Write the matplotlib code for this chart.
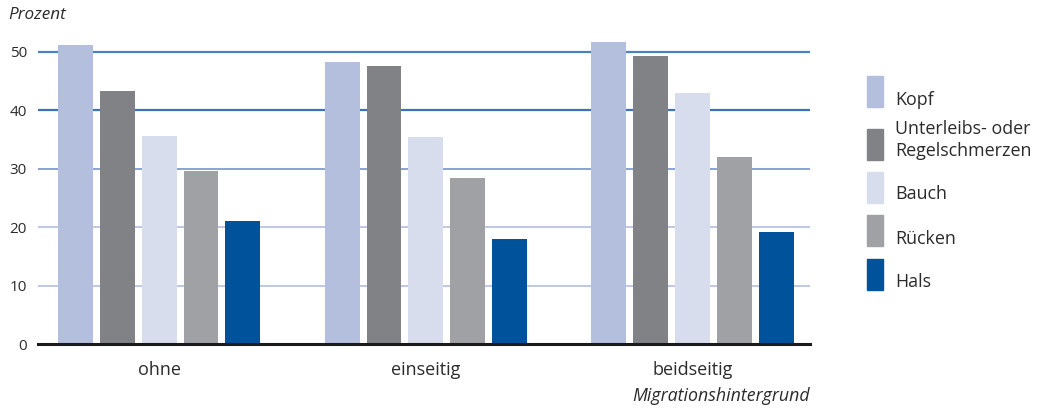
import numpy as np
import matplotlib
matplotlib.use("Agg")
import matplotlib.pyplot as plt
from matplotlib.patches import Rectangle

# Data
groups = ["ohne", "einseitig", "beidseitig"]
series = ["Kopf", "Unterleibs- oder\nRegelschmerzen", "Bauch", "Rücken", "Hals"]
kopf = [51.2, 48.3, 51.7]
unterleib = [43.3, 47.6, 49.3]
bauch = [35.6, 35.4, 43.0]
ruecken = [29.6, 28.4, 32.0]
hals = [21.1, 18.0, 19.2]
yticks = [0, 10, 20, 30, 40, 50]
ytick_labels = ["0", "10", "20", "30", "40", "50"]

values = [kopf, unterleib, bauch, ruecken, hals]
colors = ["#b4bedd", "#808286", "#d8ddee", "#a0a1a5", "#00529b"]
grid_colors = ["#b9c3e3", "#b9c3e3", "#b9c3e3", "#7f9dd0", "#3f70bd", "#4a82bf"]

plt.rcParams['font.family'] = ['Open Sans', 'DejaVu Sans']
text_color = "#2b2b2b"

fig = plt.figure(figsize=(10.38, 4.08), dpi=100)
ax = fig.add_axes([38 / 1038, 1 - 344 / 408, (810 - 38) / 1038, (344 - 28.6) / 408])

x = np.arange(len(groups))
step = 0.157
width = 0.131
for i, (vals, c) in enumerate(zip(values, colors)):
    ax.bar(x + (i - 2) * step, vals, width=width, color=c, zorder=3)

# gridlines
for t, gc in zip(yticks, grid_colors):
    if t == 0:
        continue
    ax.axhline(t, color=gc, lw=1.6 if t >= 40 else 1.3, zorder=1)

ax.set_xlim(-0.454, 2.44)
ax.set_ylim(0, 54)
for s in ["top", "right", "left"]:
    ax.spines[s].set_visible(False)
ax.spines["bottom"].set_color("#1a1a1a")
ax.spines["bottom"].set_linewidth(2.2)
ax.spines["bottom"].set_zorder(4)

ax.set_yticks(yticks)
ax.set_yticklabels(ytick_labels, fontsize=11, color=text_color)
ax.set_xticks(x)
ax.set_xticklabels(groups, fontsize=13, color=text_color)
ax.tick_params(axis="both", length=0)
ax.tick_params(axis="y", pad=8)
ax.tick_params(axis="x", pad=12)

fig.text(8 / 1038, 1 - 15 / 408, "Prozent", fontsize=12.3, style="italic",
         color=text_color, va="center", ha="left")
fig.text(810 / 1038, 1 - 396 / 408, "Migrationshintergrund", fontsize=12.8,
         style="italic", color=text_color, va="center", ha="right")

# legend
patch_tops = [76, 129, 172, 215, 259]
label_y = [100, 140, 194, 239, 282]
for top, ly, lab, c in zip(patch_tops, label_y, series, colors):
    fig.add_artist(Rectangle((867 / 1038, 1 - (top + 31) / 408), 16 / 1038, 31 / 408,
                             transform=fig.transFigure, color=c))
    fig.text(895 / 1038, 1 - ly / 408, lab, fontsize=12.9, color=text_color,
             va="center", ha="left", linespacing=1.25)

fig.savefig("out.png", dpi=100)
